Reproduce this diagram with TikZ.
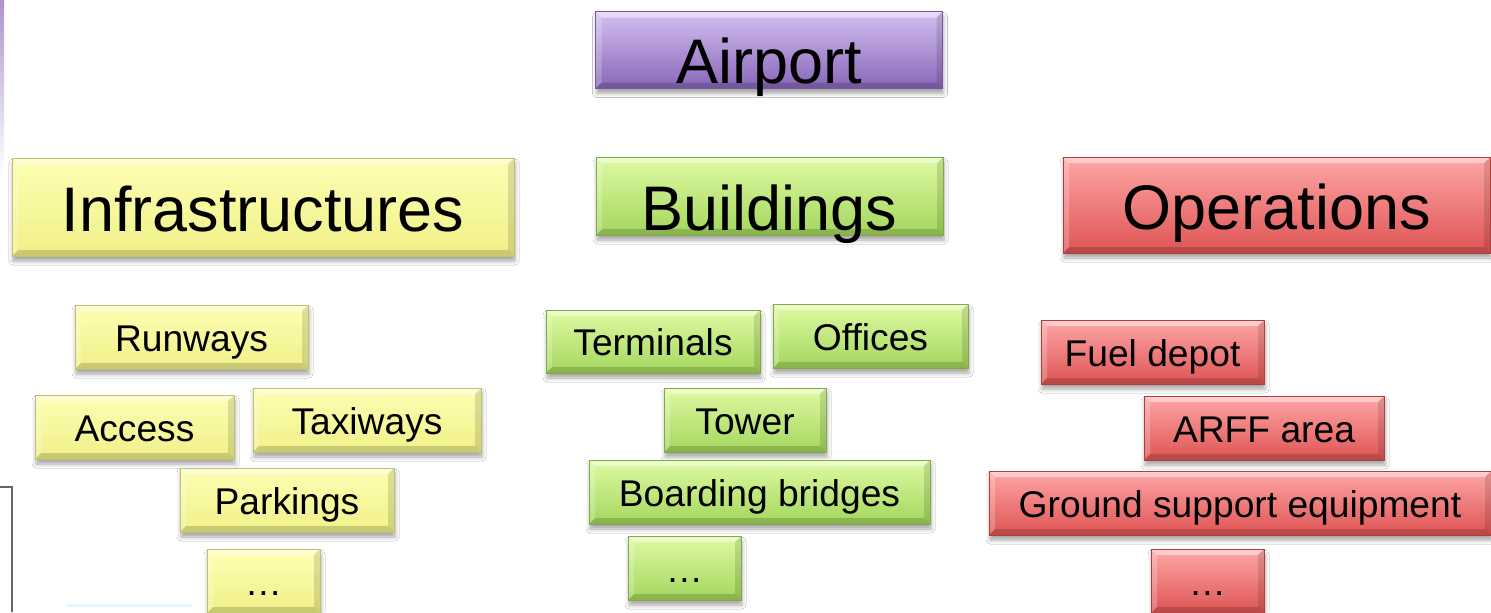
\documentclass[tikz,border=0pt]{standalone}
\usepackage{fontspec}
\setmainfont{Liberation Sans}
\usetikzlibrary{shadows,shadows.blur}

% tile colours: light top, darker bottom, edge
\definecolor{purTop}{RGB}{212,192,242}
\definecolor{purBot}{RGB}{136,102,184}
\definecolor{purEdge}{RGB}{118,88,160}
\definecolor{yelTop}{RGB}{254,254,180}
\definecolor{yelBot}{RGB}{240,240,136}
\definecolor{yelEdge}{RGB}{192,192,112}
\definecolor{grnTop}{RGB}{222,250,162}
\definecolor{grnBot}{RGB}{164,214,94}
\definecolor{grnEdge}{RGB}{128,170,70}
\definecolor{redTop}{RGB}{255,166,166}
\definecolor{redBot}{RGB}{222,84,84}
\definecolor{redEdge}{RGB}{174,62,62}

\tikzset{
  x=0.5pt, y=-0.5pt,
  bevel/.style={path picture={
    \fill[white,opacity=.45] (path picture bounding box.north west) -- (path picture bounding box.north east)
      -- ([xshift=-3pt,yshift=-3pt]path picture bounding box.north east) -- ([xshift=3pt,yshift=-3pt]path picture bounding box.north west) -- cycle;
    \fill[white,opacity=.22] (path picture bounding box.north west) -- ([xshift=3pt,yshift=-3pt]path picture bounding box.north west)
      -- ([xshift=3pt,yshift=3pt]path picture bounding box.south west) -- (path picture bounding box.south west) -- cycle;
    \fill[black,opacity=.12] (path picture bounding box.north east) -- (path picture bounding box.south east)
      -- ([xshift=-3pt,yshift=3pt]path picture bounding box.south east) -- ([xshift=-3pt,yshift=-3pt]path picture bounding box.north east) -- cycle;
    \fill[black,opacity=.16] (path picture bounding box.south west) -- (path picture bounding box.south east)
      -- ([xshift=-3pt,yshift=3pt]path picture bounding box.south east) -- ([xshift=3pt,yshift=3pt]path picture bounding box.south west) -- cycle;
  }},
  tile/.style={rectangle, inner sep=0pt, line width=0.5pt, bevel,
    blur shadow={shadow xshift=0.5pt, shadow yshift=-2.5pt, shadow blur radius=2pt, shadow opacity=35}},
  ptile/.style={tile, draw=purEdge, top color=purTop, bottom color=purBot},
  ytile/.style={tile, draw=yelEdge, top color=yelTop, bottom color=yelBot},
  gtile/.style={tile, draw=grnEdge, top color=grnTop, bottom color=grnBot},
  rtile/.style={tile, draw=redEdge, top color=redTop, bottom color=redBot},
  big/.style={font=\fontsize{31.5}{36}\selectfont, text depth=0pt},
  small/.style={font=\fontsize{18.6}{22}\selectfont, text height=14pt, text depth=0pt, minimum height=32pt},
}

\begin{document}
\begin{tikzpicture}
\useasboundingbox (0,0) rectangle (1491,612);
\fill[white] (0,0) rectangle (1491,612);

% slide remnants at the left border
\shade[top color=purBot!70, bottom color=white] (0,0) rectangle (4,175);
\draw[gray!80!black, line width=0.6pt] (0,487) -- (12,487) -- (12,612);
\fill[cyan!10] (66,604) rectangle (192,607);

% top level
\node[ptile, big, text height=33pt, minimum width=173.5pt, minimum height=38.5pt] (airport) at (769,50) {Airport};

% categories
\node[ytile, big, text height=24pt, minimum width=251pt, minimum height=49pt] (infra) at (263,207) {Infrastructures};
\node[gtile, big, text height=34pt, minimum width=173.5pt, minimum height=39pt] (buildings) at (769.5,196) {Buildings};
\node[rtile, big, text height=24pt, minimum width=213.5pt, minimum height=48pt] (operations) at (1276.5,205) {Operations};

% infrastructures
\node[ytile, small, minimum width=116.5pt] (runways) at (191.5,337) {Runways};
\node[ytile, small, minimum width=99.5pt] (access) at (134.5,427) {Access};
\node[ytile, small, minimum width=114pt] (taxiways) at (367,420) {Taxiways};
\node[ytile, small, minimum width=107pt] (parkings) at (287,500) {Parkings};
\node[ytile, small, minimum width=56.5pt] (infmore) at (263.5,581) {…};

% buildings
\node[gtile, small, minimum width=107pt, minimum height=31.5pt] (terminals) at (653,341.5) {Terminals};
\node[gtile, small, minimum width=97.5pt] (offices) at (870.5,336) {Offices};
\node[gtile, small, minimum width=81pt] (tower) at (745,420) {Tower};
\node[gtile, small, minimum width=170.5pt] (bridges) at (759.5,492) {Boarding bridges};
\node[gtile, small, minimum width=56.5pt] (bldmore) at (684.5,568) {…};

% operations
\node[rtile, small, minimum width=111.5pt] (fuel) at (1152.5,352) {Fuel depot};
\node[rtile, small, minimum width=120pt] (arff) at (1264,428) {ARFF area};
\node[rtile, small, minimum width=251pt] (gse) at (1240,503) {Ground support equipment};
\node[rtile, small, minimum width=56.5pt] (opsmore) at (1207.5,581) {…};
\end{tikzpicture}
\end{document}
